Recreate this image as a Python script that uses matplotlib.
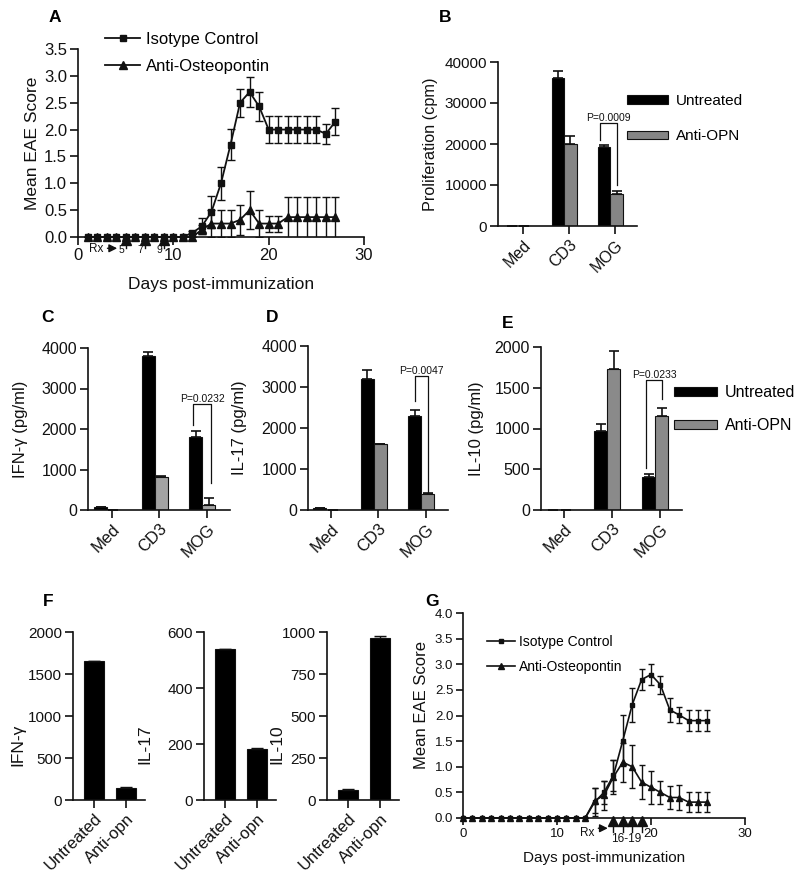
import numpy as np
import matplotlib
matplotlib.use("Agg")
import matplotlib.pyplot as plt
from matplotlib.patches import Patch
from matplotlib.lines import Line2D

plt.rcParams['font.family'] = ['Liberation Sans', 'DejaVu Sans']

# ---------------- data ----------------
# A: EAE time course, treatment on days 5, 7, 9
a_days = list(range(1, 28))
a_iso = [0, 0, 0, 0, 0, 0, 0, 0, 0, 0, 0,
         0.08, 0.2, 0.47, 1.0, 1.72, 2.5, 2.7, 2.43, 2.0, 2.0, 2.0, 2.0, 2.0, 2.0, 1.92, 2.15]
a_iso_err = [0, 0, 0, 0, 0, 0, 0, 0, 0, 0, 0,
             0.03, 0.15, 0.3, 0.31, 0.29, 0.26, 0.28, 0.27, 0.25, 0.25, 0.25, 0.25, 0.25, 0.25, 0.18, 0.25]
a_anti = [0, 0, 0, 0, 0, 0, 0, 0, 0, 0, 0, 0,
          0.14, 0.25, 0.25, 0.25, 0.32, 0.5, 0.25, 0.25, 0.25, 0.37, 0.37, 0.37, 0.37, 0.37, 0.37]
a_anti_err = [0, 0, 0, 0, 0, 0, 0, 0, 0, 0, 0, 0,
              0.08, 0.25, 0.25, 0.25, 0.28, 0.35, 0.25, 0.15, 0.15, 0.38, 0.38, 0.38, 0.38, 0.38, 0.38]
a_rx_days = [5, 7, 9]

# B-E: recall responses
cats = ["Med", "CD3", "MOG"]
b_untreated = [100, 36000, 19200]
b_untreated_err = [0, 1800, 600]
b_anti = [100, 20000, 7900]
b_anti_err = [0, 2000, 700]

c_untreated = [70, 3800, 1800]
c_untreated_err = [0, 90, 150]
c_anti = [10, 820, 125]
c_anti_err = [0, 30, 175]

d_untreated = [60, 3200, 2300]
d_untreated_err = [0, 210, 150]
d_anti = [10, 1600, 400]
d_anti_err = [0, 20, 20]

e_untreated = [5, 970, 400]
e_untreated_err = [0, 85, 40]
e_anti = [5, 1730, 1150]
e_anti_err = [0, 220, 105]

# F: cytokines
f_groups = ["Untreated", "Anti-opn"]
f_ifng = [1660, 145]
f_ifng_err = [0, 10]
f_il17 = [540, 182]
f_il17_err = [0, 3]
f_il10 = [60, 966]
f_il10_err = [5, 8]

# G: EAE time course, treatment on days 16-19
g_days = list(range(0, 27))
g_iso = [0, 0, 0, 0, 0, 0, 0, 0, 0, 0, 0, 0, 0, 0,
         0.31, 0.5, 0.83, 1.51, 2.21, 2.7, 2.8, 2.6, 2.11, 2.01, 1.9, 1.9, 1.9]
g_iso_err = [0, 0, 0, 0, 0, 0, 0, 0, 0, 0, 0, 0, 0, 0,
             0.27, 0.23, 0.3, 0.5, 0.33, 0.2, 0.2, 0.18, 0.23, 0.15, 0.2, 0.2, 0.2]
g_anti = [0, 0, 0, 0, 0, 0, 0, 0, 0, 0, 0, 0, 0, 0,
          0.34, 0.44, 0.8, 1.09, 1.0, 0.7, 0.6, 0.5, 0.4, 0.4, 0.31, 0.31, 0.31]
g_anti_err = [0, 0, 0, 0, 0, 0, 0, 0, 0, 0, 0, 0, 0, 0,
              0.25, 0.28, 0.33, 0.38, 0.42, 0.33, 0.32, 0.23, 0.23, 0.24, 0.2, 0.2, 0.2]
g_rx_days = [16, 17, 18, 19]

# ---------------- figure ----------------
W, H = 800, 875
INK = '#111111'
fig = plt.figure(figsize=(W / 100, H / 100), dpi=100)


def add_ax(left, top, right, bottom, tsize):
    ax = fig.add_axes([left / W, 1 - bottom / H, (right - left) / W, (bottom - top) / H])
    ax.spines[['top', 'right']].set_visible(False)
    ax.spines[['left', 'bottom']].set_linewidth(1.2)
    ax.spines[['left', 'bottom']].set_color(INK)
    ax.tick_params(direction='out', length=6, width=1.2, pad=2, labelsize=tsize, colors=INK)
    ax.patch.set_alpha(0)
    return ax


def ylabel_at(ax, text, x_px, size, yfrac=0.5):
    ax.set_ylabel(text, fontsize=size, va='center', color=INK)
    pos = ax.get_position()
    ax.yaxis.set_label_coords((x_px / W - pos.x0) / pos.width, yfrac)


def xlabel_at(ax, text, y_px, size):
    ax.set_xlabel(text, fontsize=size, va='center', color=INK)
    pos = ax.get_position()
    ax.xaxis.set_label_coords(0.5, ((1 - y_px / H) - pos.y0) / pos.height)


def panel_label(x_px, y_px, s):
    fig.text(x_px / W, 1 - y_px / H, s, fontsize=12.5, fontweight='bold', ha='center', va='center')


def course(ax, days, iso, iso_err, anti, anti_err, ms, cap, lw):
    ax.errorbar(days, iso, yerr=iso_err, fmt='none', ecolor=INK, elinewidth=1, capsize=cap, capthick=1)
    ax.errorbar(days, anti, yerr=anti_err, fmt='none', ecolor=INK, elinewidth=1, capsize=cap, capthick=1)
    ax.plot(days, iso, color=INK, lw=lw, marker='s', ms=ms, clip_on=False, zorder=3)
    ax.plot(days, anti, color=INK, lw=lw, marker='^', ms=ms + 1, clip_on=False, zorder=3)


def rx_marks(ax, days, tri_y, stem_y, ms, labels, label_y, lsize):
    tr = ax.get_xaxis_transform()
    for d in days:
        ax.plot([d, d], [tri_y, stem_y], color=INK, lw=1, transform=tr, clip_on=False)
        ax.plot(d, tri_y, marker='^', ms=ms, color=INK, transform=tr, clip_on=False)
    for d, s in labels:
        ax.text(d, label_y, s, transform=tr, fontsize=lsize, ha='center', va='center', color=INK)


def rx_arrow(ax, x0, x1, y, text_x, text_y, size):
    tr = ax.get_xaxis_transform()
    ax.annotate('', xy=(x1, y), xytext=(x0, y), xycoords=tr, textcoords=tr,
                arrowprops=dict(arrowstyle='-|>', color=INK, lw=1, mutation_scale=12),
                annotation_clip=False)
    ax.text(text_x, text_y, 'Rx', transform=tr, fontsize=size, ha='center', va='center', color=INK)


def grouped_bars(ax, untreated, u_err, anti, a_err, gray):
    x = np.arange(len(cats))
    w = 0.27
    xu = x - 0.1 - w / 2
    xa = x - 0.1 + w / 2
    zeros = np.zeros(len(cats))
    ax.bar(xu, untreated, w, color='black', edgecolor=INK, lw=0.8)
    ax.bar(xa, anti, w, color=gray, edgecolor=INK, lw=0.8)
    ax.errorbar(xu, untreated, yerr=[zeros, u_err], fmt='none', ecolor=INK, elinewidth=1.2, capsize=3.5, capthick=1.2)
    ax.errorbar(xa, anti, yerr=[zeros, a_err], fmt='none', ecolor=INK, elinewidth=1.2, capsize=3.5, capthick=1.2)
    ax.set_xticks(x)
    ax.set_xticklabels(cats, rotation=45, ha='right', rotation_mode='anchor')
    return xu, xa


def bracket(ax, x0, x1, top, left_bottom, right_bottom, text, size=7.5):
    ax.plot([x0, x0, x1, x1], [left_bottom, top, top, right_bottom], color=INK, lw=0.9, clip_on=False)
    ax.text((x0 + x1) / 2, top, text, fontsize=size, ha='center', va='bottom', color=INK)


def side_legend(ax, x_px, y_px, gray, size, spacing):
    handles = [Patch(facecolor='black', edgecolor=INK, lw=0.8),
               Patch(facecolor=gray, edgecolor=INK, lw=0.8)]
    ax.legend(handles, ['Untreated', 'Anti-OPN'], loc='upper left',
              bbox_to_anchor=(x_px / W, 1 - y_px / H), bbox_transform=fig.transFigure,
              frameon=False, fontsize=size, handlelength=2.7, handleheight=0.5,
              handletextpad=0.5, labelspacing=spacing, borderpad=0, borderaxespad=0)


# ---- A ----
axA = add_ax(78, 49, 364, 237, 12)
course(axA, a_days, a_iso, a_iso_err, a_anti, a_anti_err, ms=5, cap=3, lw=1.3)
axA.set_xlim(0, 30)
axA.set_ylim(0, 3.5)
axA.set_xticks([0, 10, 20, 30])
axA.set_yticks(np.arange(0, 3.51, 0.5))
axA.yaxis.set_major_formatter(matplotlib.ticker.FormatStrFormatter('%.1f'))
ylabel_at(axA, 'Mean EAE Score', 33, 12.5)
xlabel_at(axA, 'Days post-immunization', 285, 12.5)
rx_marks(axA, a_rx_days, -0.016, -0.058, 7.5,
         [(d - 0.45, str(d)) for d in a_rx_days], -0.068, 7.5)
rx_arrow(axA, 2.8, 4.4, -0.06, 1.9, -0.065, 8.5)
legA = [Line2D([], [], color=INK, lw=1.3, marker='s', ms=5),
        Line2D([], [], color=INK, lw=1.3, marker='^', ms=6)]
axA.legend(legA, ['Isotype Control', 'Anti-Osteopontin'], loc='upper left',
           bbox_to_anchor=(105 / W, 1 - 32 / H), bbox_transform=fig.transFigure,
           frameon=False, fontsize=12, numpoints=1, handlelength=2.1, handletextpad=0.35,
           labelspacing=0.72, borderpad=0, borderaxespad=0)
panel_label(55, 17, 'A')

# ---- B ----
axB = add_ax(498, 62, 637, 226, 11)
xu, xa = grouped_bars(axB, b_untreated, b_untreated_err, b_anti, b_anti_err, '#858585')
axB.set_xlim(-0.54, 2.48)
axB.set_ylim(0, 40000)
axB.set_yticks([0, 10000, 20000, 30000, 40000])
axB.tick_params(axis='x', labelsize=11.5)
ylabel_at(axB, 'Proliferation (cpm)', 430, 11.7)
bracket(axB, xu[2] - 0.08, xa[2], 25100, 21000, 10000, 'P=0.0009', 7.5)
side_legend(axB, 627, 94, '#858585', 11, 1.4)
panel_label(445, 17, 'B')

# ---- C ----
axC = add_ax(88, 348, 230, 510, 11.5)
xu, xa = grouped_bars(axC, c_untreated, c_untreated_err, c_anti, c_anti_err, '#a3a3a3')
axC.set_xlim(-0.5, 2.48)
axC.set_ylim(0, 4000)
axC.set_yticks([0, 1000, 2000, 3000, 4000])
axC.tick_params(axis='x', labelsize=12)
ylabel_at(axC, 'IFN-γ (pg/ml)', 20, 12)
bracket(axC, xu[2] - 0.06, xa[2] + 0.05, 2620, 2100, 670, 'P=0.0232', 7.5)
panel_label(48, 318, 'C')

# ---- D ----
axD = add_ax(308, 346, 448, 510, 11.5)
xu, xa = grouped_bars(axD, d_untreated, d_untreated_err, d_anti, d_anti_err, '#8a8a8a')
axD.set_xlim(-0.48, 2.46)
axD.set_ylim(0, 4000)
axD.set_yticks([0, 1000, 2000, 3000, 4000])
axD.tick_params(axis='x', labelsize=12)
ylabel_at(axD, 'IL-17 (pg/ml)', 240, 12)
bracket(axD, xu[2], xa[2], 3270, 2670, 440, 'P=0.0047', 7.5)
panel_label(272, 318, 'D')

# ---- E ----
axE = add_ax(541, 347, 682, 510, 11.5)
xu, xa = grouped_bars(axE, e_untreated, e_untreated_err, e_anti, e_anti_err, '#8a8a8a')
axE.set_xlim(-0.48, 2.46)
axE.set_ylim(0, 2000)
axE.set_yticks([0, 500, 1000, 1500, 2000])
axE.tick_params(axis='x', labelsize=12)
ylabel_at(axE, 'IL-10 (pg/ml)', 477, 12)
bracket(axE, xu[2] - 0.05, xa[2], 1595, 515, 1362, 'P=0.0233', 7.5)
side_legend(axE, 674, 385, '#8a8a8a', 11.5, 1.15)
panel_label(508, 323, 'E')

# ---- F ----
f_sets = [
    (73, f_ifng, f_ifng_err, [0, 500, 1000, 1500, 2000], 'IFN-γ', 18),
    (204, f_il17, f_il17_err, [0, 200, 400, 600], 'IL-17', 145),
    (327, f_il10, f_il10_err, [0, 250, 500, 750, 1000], 'IL-10', 277),
]
for left, vals, errs, yt, lab, lab_x in f_sets:
    ax = add_ax(left, 632, left + 72, 800, 11)
    x = np.arange(len(f_groups))
    ax.bar(x, vals, 0.62, color='black', edgecolor=INK, lw=0.8)
    ax.errorbar(x, vals, yerr=[np.zeros(len(vals)), errs], fmt='none', ecolor=INK,
                elinewidth=1, capsize=4, capthick=1)
    ax.set_xlim(-0.65, 1.6)
    ax.set_ylim(0, yt[-1])
    ax.set_yticks(yt)
    ax.set_xticks(x)
    ax.set_xticklabels(f_groups, rotation=45, ha='right', rotation_mode='anchor', fontsize=12)
    ylabel_at(ax, lab, lab_x, 12.5, yfrac=0.33)
panel_label(48, 602, 'F')

# ---- G ----
axG = add_ax(463, 613, 745, 818, 9.5)
course(axG, g_days, g_iso, g_iso_err, g_anti, g_anti_err, ms=3.5, cap=2.5, lw=1.2)
axG.set_xlim(0, 30)
axG.set_ylim(0, 4)
axG.set_xticks([0, 10, 20, 30])
axG.set_yticks(np.arange(0, 4.01, 0.5))
axG.yaxis.set_major_formatter(matplotlib.ticker.FormatStrFormatter('%.1f'))
axG.tick_params(length=5)
ylabel_at(axG, 'Mean EAE Score', 422, 12, yfrac=0.55)
xlabel_at(axG, 'Days post-immunization', 858, 11)
rx_marks(axG, g_rx_days, -0.015, -0.07, 7, [(17.4, '16-19')], -0.1, 8.5)
rx_arrow(axG, 14.1, 15.7, -0.05, 13.2, -0.075, 8.5)
legG = [Line2D([], [], color=INK, lw=1.2, marker='s', ms=3.5),
        Line2D([], [], color=INK, lw=1.2, marker='^', ms=4)]
axG.legend(legG, ['Isotype Control', 'Anti-Osteopontin'], loc='upper left',
           bbox_to_anchor=(487 / W, 1 - 635 / H), bbox_transform=fig.transFigure,
           frameon=False, fontsize=10, numpoints=1, handlelength=2.0, handletextpad=0.3,
           labelspacing=0.8, borderpad=0, borderaxespad=0)
panel_label(432, 602, 'G')

fig.savefig('out.png', dpi=100)
